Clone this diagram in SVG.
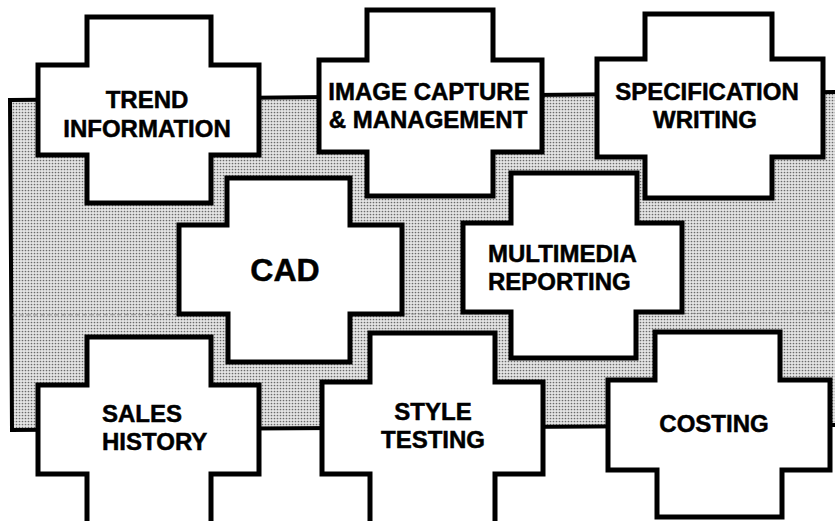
<svg xmlns="http://www.w3.org/2000/svg" width="835" height="521" viewBox="0 0 835 521">
<defs>
<pattern id="dots" width="3" height="3" patternUnits="userSpaceOnUse">
<rect width="3" height="3" fill="#e4e4e4"/>
<circle cx="1.5" cy="1.5" r="0.85" fill="#6a6a6a"/>
</pattern>
</defs>
<style>
.cross{fill:#fff;stroke:#000;stroke-width:5;stroke-linejoin:miter}
.lbl{font-family:"Liberation Sans",Arial,sans-serif;font-weight:bold;font-size:24px;fill:#000;stroke:#000;stroke-width:0.5;text-anchor:middle}
.big{font-size:32px}
.left{text-anchor:start}
</style>
<g id="background">
<path d="M10,100 L845,92 L845,425 L12,430 Z" fill="url(#dots)" stroke="#000" stroke-width="4"/>
<line x1="12" y1="315" x2="835" y2="313" stroke="#777" stroke-width="1" stroke-dasharray="5 2" opacity="0.7"/>
</g>
<g id="connectors"></g>
<g id="trend">
<path class="cross" d="M87,17 H211 V65 H259 V155 H211 V203 H87 V155 H38 V65 H87 Z"/>
<text class="lbl" x="147" y="108">TREND</text>
<text class="lbl" x="147" y="137">INFORMATION</text>
</g>
<g id="image-capture">
<path class="cross" d="M367,10 H493 V60 H542 V152 H493 V196 H367 V152 H319 V60 H367 Z"/>
<text class="lbl" x="429" y="100">IMAGE CAPTURE</text>
<text class="lbl" x="428" y="128">&amp; MANAGEMENT</text>
</g>
<g id="specification">
<path class="cross" d="M645,14 H772 V59 H823 V157 H772 V198 H645 V157 H597 V59 H645 Z"/>
<text class="lbl" x="707" y="100">SPECIFICATION</text>
<text class="lbl" x="705" y="128">WRITING</text>
</g>
<g id="cad">
<path class="cross" d="M227,178 H350 V225 H402 V314 H350 V362 H228 V314 H179 V225 H227 Z"/>
<text class="lbl big" x="285" y="281">CAD</text>
</g>
<g id="multimedia">
<path class="cross" d="M511,173 H637 V223 H682 V312 H636 V358 H511 V312 H463 V223 H511 Z"/>
<text class="lbl left" x="488" y="262">MULTIMEDIA</text>
<text class="lbl left" x="488" y="290">REPORTING</text>
</g>
<g id="sales">
<path class="cross" d="M87,337 H211 V385 H259 V474 H211 V530 H87 V474 H38 V385 H87 Z"/>
<text class="lbl left" x="102" y="422">SALES</text>
<text class="lbl left" x="102" y="450">HISTORY</text>
</g>
<g id="style-testing">
<path class="cross" d="M370,333 H495 V382 H543 V474 H495 V530 H370 V474 H322 V382 H370 Z"/>
<text class="lbl" x="433" y="420">STYLE</text>
<text class="lbl" x="433" y="448">TESTING</text>
</g>
<g id="costing">
<path class="cross" d="M655,332 H780 V380 H830 V470 H782 V517 H657 V470 H608 V380 H655 Z"/>
<text class="lbl" x="714" y="432">COSTING</text>
</g>
</svg>
